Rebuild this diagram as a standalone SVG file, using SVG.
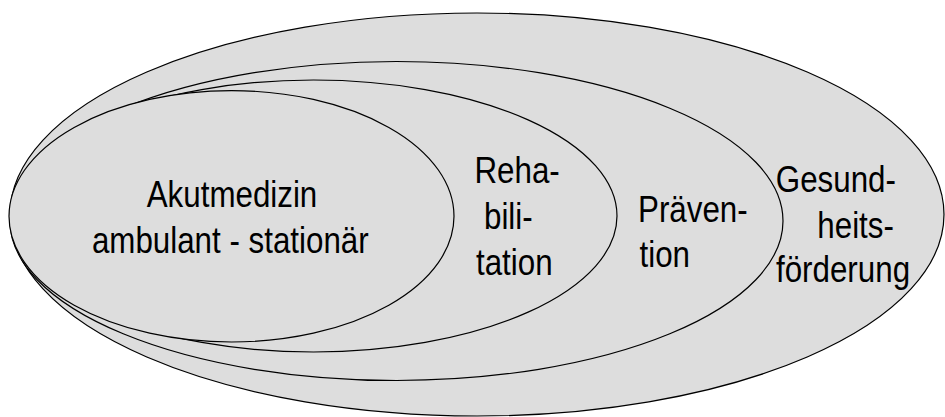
<svg xmlns="http://www.w3.org/2000/svg" width="945" height="417" viewBox="0 0 945 417">
<style>
.e{fill:#dddddd;stroke:#000;stroke-width:1.2}
.t{font-family:"Liberation Sans",Arial,sans-serif;font-size:36px;fill:#000}
</style>
<rect width="945" height="417" fill="#fff"/>
<g id="gesundheitsfoerderung">
<ellipse class="e" cx="477" cy="214.5" rx="467" ry="201.5"/>
<text class="t" transform="translate(775.8,192) scale(0.87,1)">Gesund-</text>
<text class="t" transform="translate(817.3,238) scale(0.87,1)">heits-</text>
<text class="t" transform="translate(776,282) scale(0.87,1)">förderung</text>
</g>
<g id="praevention">
<ellipse class="e" cx="396.5" cy="221" rx="386.5" ry="159.5"/>
<text class="t" transform="translate(638,222) scale(0.87,1)">Präven-</text>
<text class="t" transform="translate(639.5,267) scale(0.87,1)">tion</text>
</g>
<g id="rehabilitation">
<ellipse class="e" cx="313.5" cy="216" rx="303.5" ry="136"/>
<text class="t" transform="translate(474.5,183) scale(0.87,1)">Reha-</text>
<text class="t" transform="translate(484,229) scale(0.87,1)">bili-</text>
<text class="t" transform="translate(476,275) scale(0.87,1)">tation</text>
</g>
<g id="akutmedizin">
<ellipse class="e" cx="231.5" cy="216.3" rx="222.5" ry="125.7"/>
<text class="t" text-anchor="middle" transform="translate(232,207) scale(0.87,1)">Akutmedizin</text>
<text class="t" text-anchor="middle" transform="translate(230.3,253) scale(0.87,1)">ambulant - stationär</text>
</g>
<g id="connectors"/>
</svg>
